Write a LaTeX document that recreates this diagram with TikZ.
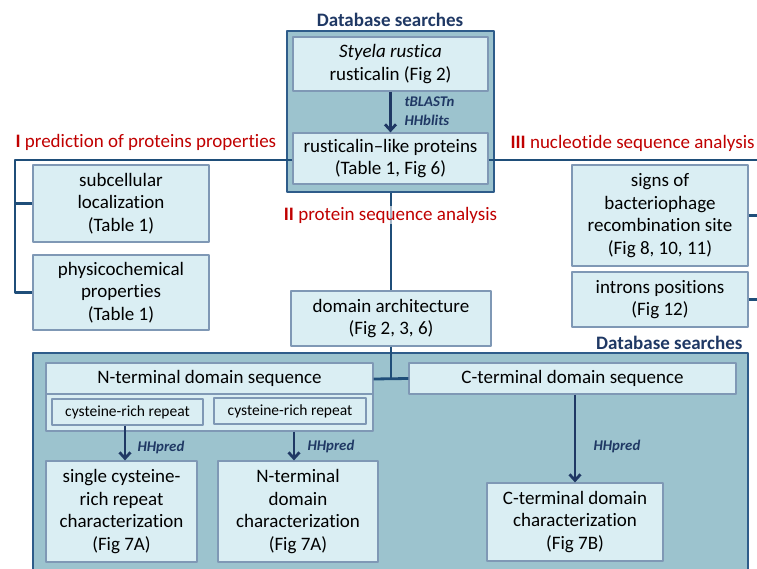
\documentclass[tikz,border=0pt]{standalone}
\usepackage{fontspec}
\setmainfont[Ligatures=NoCommon]{Carlito}
\usetikzlibrary{arrows.meta}
\definecolor{boxfill}{HTML}{DAEEF3}
\definecolor{boxline}{HTML}{7F98B5}
\definecolor{grpfill}{HTML}{9CC3CE}
\definecolor{grpline}{HTML}{2E5C8A}
\definecolor{linkblue}{HTML}{1F4E79}
\definecolor{arrblue}{HTML}{1F3864}
\definecolor{secred}{HTML}{C00000}
\begin{document}
\begin{tikzpicture}[x=1pt, y=-1pt, line join=round, >={Straight Barb[length=6pt,width=11pt]},
	box/.style={draw=boxline, line width=1.2pt, fill=boxfill, align=center, inner sep=0pt,
		font=\fontsize{19}{22.5}\selectfont},
	smallbox/.style={box, font=\fontsize{15.5}{18}\selectfont},
	grp/.style={draw=grpline, line width=2pt, fill=grpfill, inner sep=0pt},
	link/.style={draw=linkblue, line width=2.8pt},
	arr/.style={draw=arrblue, line width=2.8pt, ->},
	tool/.style={text=arrblue, font=\fontsize{14.8}{19}\selectfont\bfseries\itshape, align=left},
	title/.style={text=arrblue, font=\fontsize{19}{20}\selectfont\bfseries},
	section/.style={text=secred, font=\fontsize{19}{20}\selectfont}]
	\useasboundingbox (0,0) rectangle (757,569);
	% outer groups
	\node[grp, minimum width=207pt, minimum height=161pt] (topgrp) at (390.5,111.5) {};
	\node[grp, minimum width=715pt, minimum height=222pt] (botgrp) at (390.5,464) {};
	\node[title] (toptitle) at (390,20) {Database searches};
	\node[title, anchor=east] (bottitle) at (746,343) {Database searches};
	% top group
	\node[box, minimum width=195pt, minimum height=54pt] (styela) at (390.5,64) {\textit{Styela rustica}\\rusticalin (Fig 2)};
	\node[box, minimum width=195pt, minimum height=51pt] (rlike) at (390.5,158.5) {rusticalin--like proteins\\(Table 1, Fig 6)};
	\draw[arr] (styela) -- (rlike);
	\node[tool, anchor=west] (blast) at (401,111) {tBLASTn\\HHblits};
	% I
	\node[box, minimum width=176pt, minimum height=77pt] (subcell) at (121,203.5) {subcellular\\localization\\(Table 1)};
	\node[box, minimum width=176pt, minimum height=75pt] (physico) at (121,292.5) {physicochemical\\properties\\(Table 1)};
	\coordinate (lcorner) at (15,160);
	\draw[link] (rlike.west |- lcorner) -- (lcorner) |- (physico.west);
	\draw[link] (subcell.west) -- (subcell.west -| lcorner);
	\node[section, anchor=west] (secI) at (12,142) {\textbf{I} prediction of proteins properties};
	% III
	\node[box, minimum width=176pt, minimum height=101pt] (signs) at (660,215.5) {signs of\\bacteriophage\\recombination site\\(Fig 8, 10, 11)};
	\node[box, minimum width=176pt, minimum height=55pt] (introns) at (660,299.5) {introns positions\\(Fig 12)};
	\coordinate (rcorner) at (757,160);
	\draw[link] (rlike.east |- rcorner) -- (rcorner);
	\draw[link] (signs.east) -- (signs.east -| rcorner);
	\draw[link] (introns.east) -- (introns.east -| rcorner);
	\node[section, anchor=west] (secIII) at (507,143) {\textbf{III} nucleotide sequence analysis};
	% II
	\node[box, minimum width=200pt, minimum height=55pt] (domarch) at (391,318.5) {domain architecture\\(Fig 2, 3, 6)};
	\draw[link] (topgrp.south -| domarch) -- (domarch);
	\node[section, fill=white, fill opacity=0.6, text opacity=1, inner sep=1pt] (secII) at (390.5,215) {\textbf{II} protein sequence analysis};
	% bottom group
	\node[box, minimum width=327pt, minimum height=68pt] (ngrp) at (209.5,397) {};
	\node[box, draw=none, fill=none] (nseq) at (209.5,378.5) {N-terminal domain sequence};
	\draw[boxline, line width=1.2pt] (ngrp.west |- 0,394) -- (ngrp.east |- 0,394);
	\node[smallbox, minimum width=151pt, minimum height=26pt] (cys1) at (127.5,412) {cysteine-rich repeat};
	\node[smallbox, minimum width=152pt, minimum height=26pt] (cys2) at (290,411) {cysteine-rich repeat};
	\node[box, minimum width=327pt, minimum height=31pt] (cseq) at (572.5,378.5) {C-terminal domain sequence};
	\coordinate (junc) at (391,379);
	\draw[link] (domarch) -- (junc);
	\draw[link] (ngrp.east |- junc) -- (cseq.west);
	\node[box, minimum width=151pt, minimum height=101pt] (single) at (121.5,511.5) {single cysteine-\\rich repeat\\characterization\\(Fig 7A)};
	\node[box, minimum width=160pt, minimum height=101pt] (ntchar) at (298,511.5) {N-terminal\\domain\\characterization\\(Fig 7A)};
	\node[box, minimum width=176pt, minimum height=78pt] (ctchar) at (575,522) {C-terminal domain\\characterization\\(Fig 7B)};
	\draw[arr] (cys1.south -| 125,0) -- (single.north -| 125,0);
	\draw[arr] (ngrp.south -| 294,0) -- (ntchar.north -| 294,0);
	\draw[arr] (cseq.south -| ctchar) -- (ctchar);
	\node[tool, anchor=west] (hh1) at (134,447) {HHpred};
	\node[tool, anchor=west] (hh2) at (304,446) {HHpred};
	\node[tool, anchor=west] (hh3) at (590,446) {HHpred};
\end{tikzpicture}
\end{document}
